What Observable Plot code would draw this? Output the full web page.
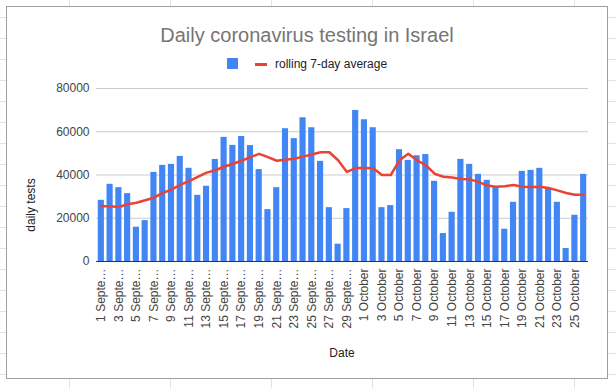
<!DOCTYPE html>
<html>
<head>
<meta charset="utf-8">
<script src="https://cdn.jsdelivr.net/npm/d3@7"></script>
<script src="https://cdn.jsdelivr.net/npm/@observablehq/plot@0.6"></script>
<style>
  body { margin: 0; font-family: "Liberation Sans", Arial, sans-serif; }
  #page {
    position: relative; width: 616px; height: 388px; overflow: hidden; background-color: #fff;
    background-image: linear-gradient(to right, #e2e2e2 1px, transparent 1px),
                      linear-gradient(to bottom, #e2e2e2 1px, transparent 1px);
    background-size: 101px 21px;
    background-position: 69px 17px;
  }
  #frame { position: absolute; left: 6px; top: 6px; width: 602px; height: 373px; box-sizing: border-box;
           border: 1px solid #9e9e9e; background: #fff; }
  #title { position: absolute; left: 0; width: 614px; top: 25px; text-align: center; font-size: 20px;
           line-height: 20px; color: #757575; }
  #legend-sq { position: absolute; left: 227px; top: 58px; width: 11px; height: 11px; background: #4285F4; }
  #legend-ln { position: absolute; left: 255px; top: 62.5px; width: 12px; height: 3px; background: #EA4335; }
  #legend-tx { position: absolute; left: 275px; top: 57.5px; font-size: 12px; line-height: 12px; color: #222; white-space: nowrap; }
  #chart { position: absolute; left: 0; top: 78px; }
  #ytitle { position: absolute; left: -19px; top: 198px; width: 100px; height: 14px; line-height: 14px; text-align: center;
            font-size: 12px; color: #222; transform: rotate(-90deg); }
  #xtitle { position: absolute; left: 292px; width: 100px; top: 346.5px; line-height: 12px; text-align: center; font-size: 12px; color: #222; }
</style>
</head>
<body>
<div id="page">
  <div id="frame"></div>
  <div id="title">Daily coronavirus testing in Israel</div>
  <div id="legend-sq"></div>
  <div id="legend-ln"></div>
  <div id="legend-tx">rolling 7-day average</div>
  <div id="chart"></div>
  <div id="ytitle">daily tests</div>
  <div id="xtitle">Date</div>
</div>
<script>
const dates = [
  "1 September","2 September","3 September","4 September","5 September","6 September","7 September",
  "8 September","9 September","10 September","11 September","12 September","13 September","14 September",
  "15 September","16 September","17 September","18 September","19 September","20 September","21 September",
  "22 September","23 September","24 September","25 September","26 September","27 September","28 September",
  "29 September","30 September","1 October","2 October","3 October","4 October","5 October","6 October",
  "7 October","8 October","9 October","10 October","11 October","12 October","13 October","14 October",
  "15 October","16 October","17 October","18 October","19 October","20 October","21 October","22 October",
  "23 October","24 October","25 October","26 October"
];
const dailyTests = [
  28300, 35700, 34150, 31400, 15850, 18900, 41200, 44460, 44900, 48600, 43100, 30600, 34800, 47200,
  57400, 53700, 57800, 53600, 42500, 24000, 34150, 61400, 56800, 66460, 61850, 46300, 24900, 8000,
  24460, 69850, 65540, 61850, 24900, 25850, 51700, 46770, 48900, 49450, 37080, 12920, 22770, 47230,
  44920, 40300, 37540, 34310, 14920, 27380, 41690, 42150, 43080, 33850, 27380, 6000, 21380, 40300
];
const rollingAvg = [
  25500, 25500, 25200, 26500, 27200, 28300, 29500, 31700, 33200, 35500, 37200, 39100, 41100, 42200,
  43800, 45200, 46600, 48300, 49800, 48300, 46600, 47100, 47500, 48500, 49500, 50500, 50500, 46800,
  41400, 43200, 43200, 43100, 40000, 40000, 46800, 49800, 46800, 44500, 40600, 39200, 38800, 38200,
  38000, 36800, 35100, 34600, 34800, 35400, 34600, 34500, 34600, 34000, 32900, 31700, 30900, 30900
];
const yTicks = [0, 20000, 40000, 60000, 80000];
const xTicks = dates.filter((d, i) => i % 2 === 0);

const data = dates.map((d, i) => ({date: d, tests: dailyTests[i], avg: rollingAvg[i]}));
const fmtX = d => d.includes("September") ? d.replace("September", "Septe…") : d;

const chart = Plot.plot({
  width: 616,
  height: 310,
  marginLeft: 96,
  marginRight: 28,
  marginTop: 10,
  marginBottom: 127,
  style: {background: "transparent", fontFamily: '"Liberation Sans", Arial, sans-serif', fontSize: "12px", color: "#444"},
  x: {domain: dates, paddingInner: 0.3, paddingOuter: 0.2},
  y: {domain: [0, 80000]},
  marks: [
    Plot.gridY(yTicks.slice(1), {stroke: "#cccccc", strokeOpacity: 1}),
    Plot.barY(data, {x: "date", y: "tests", fill: "#4285F4"}),
    Plot.ruleY([0], {stroke: "#333"}),
    Plot.line(data, {x: "date", y: "avg", stroke: "#EA4335", strokeWidth: 2.5}),
    Plot.axisY({ticks: yTicks, tickSize: 0, tickPadding: 7, tickFormat: d => String(d), label: null}),
    Plot.axisX({ticks: xTicks, tickRotate: -90, tickSize: 0, tickPadding: 7, tickFormat: fmtX, label: null})
  ]
});
document.getElementById("chart").appendChild(chart);
</script>
</body>
</html>
